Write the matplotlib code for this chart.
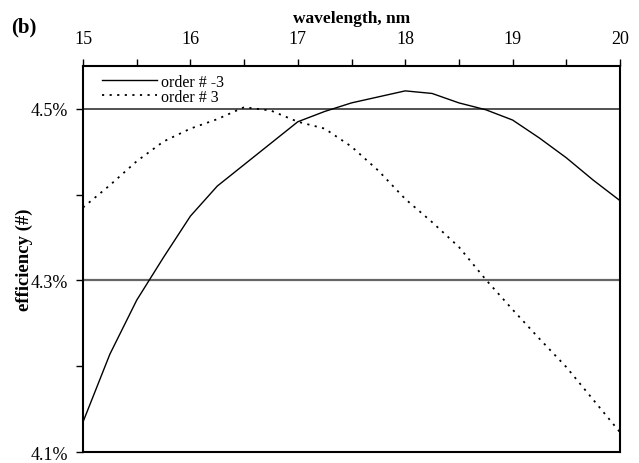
import matplotlib
matplotlib.use("Agg")
import matplotlib.pyplot as plt
from matplotlib.ticker import FixedLocator, FuncFormatter, MultipleLocator

plt.rcParams['font.family'] = ['Liberation Serif', 'DejaVu Serif']

wavelength = [15.0, 15.25, 15.5, 15.75, 16.0, 16.25, 16.5, 16.75, 17.0, 17.25, 17.5,
              17.75, 18.0, 18.25, 18.5, 18.75, 19.0, 19.25, 19.5, 19.75, 20.0]
order_m3 = [4.135, 4.214, 4.277, 4.327, 4.375, 4.410, 4.435, 4.460, 4.485, 4.497, 4.507,
            4.514, 4.521, 4.518, 4.507, 4.499, 4.487, 4.466, 4.443, 4.417, 4.393]
order_p3 = [4.385, 4.411, 4.439, 4.462, 4.477, 4.488, 4.502, 4.498, 4.485, 4.477, 4.456,
            4.428, 4.395, 4.368, 4.339, 4.301, 4.266, 4.232, 4.199, 4.161, 4.123]
labels = ["order # -3", "order # 3"]
y_major = [4.1, 4.3, 4.5]
y_minor = [4.2, 4.4]
grid_levels = [4.3, 4.5]

fig = plt.figure(figsize=(6.39, 4.64), dpi=100)
ax = fig.add_axes([0.1299, 0.0237, 0.8404, 0.8319])

ax.axhline(grid_levels[0], color='#666666', lw=1.6, zorder=1)
ax.axhline(grid_levels[1], color='#333333', lw=1.2, zorder=1)

ax.plot(wavelength, order_m3, color='black', lw=1.0, ls='-', label=labels[0], zorder=3)
ax.plot(wavelength, order_p3, color='black', lw=1.3, ls=(0, (1.2, 3.0)), label=labels[1], zorder=3)

ax.set_xlim(15, 20)
ax.set_ylim(4.1, 4.55)

ax.xaxis.tick_top()
ax.xaxis.set_label_position('top')
ax.xaxis.set_major_locator(MultipleLocator(1))
ax.xaxis.set_minor_locator(MultipleLocator(0.5))
ax.yaxis.set_major_locator(FixedLocator(y_major))
ax.yaxis.set_minor_locator(FixedLocator(y_minor))
ax.yaxis.set_major_formatter(FuncFormatter(lambda v, p: f"{v:.1f}%"))

ax.tick_params(axis='x', which='both', direction='out', length=5, width=1.0,
               labelsize=13, pad=9, top=True, bottom=False)
ax.tick_params(axis='y', which='both', direction='out', length=5, width=1.0,
               labelsize=13, pad=6)

for s in ax.spines.values():
    s.set_linewidth(1.5)

ax.set_xlabel("wavelength, nm", fontsize=12.5, fontweight='bold')
ax.xaxis.set_label_coords(0.5, 1.113)
ax.set_ylabel("efficiency (#)", fontsize=13.5, fontweight='bold')
ax.yaxis.set_label_coords(-0.093, 0.5)

leg = ax.legend(loc='upper left', frameon=False, fontsize=11.5, handlelength=3.4,
                handletextpad=0.3, labelspacing=-0.05, borderaxespad=0.2,
                bbox_to_anchor=(0.018, 1.005))

fig.text(0.017, 0.93, "(b)", fontsize=15, fontweight='bold')

fig.savefig("out.png", dpi=100)
